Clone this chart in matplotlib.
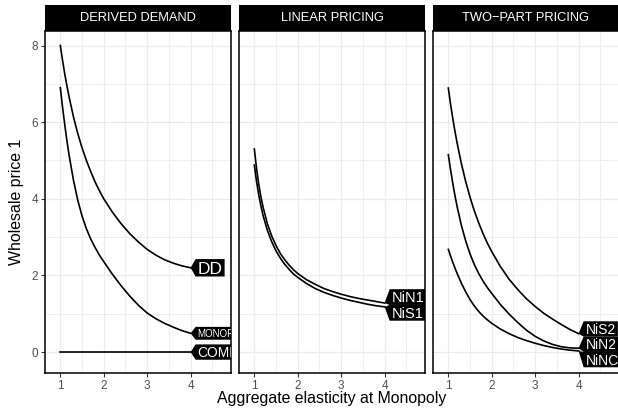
import matplotlib
matplotlib.use("Agg")
import matplotlib.pyplot as plt
import matplotlib.transforms as mtransforms
from matplotlib.patches import Polygon, Rectangle

plt.rcParams['font.family'] = ['Liberation Sans', 'DejaVu Sans']

# aggregate elasticity at monopoly (x) and wholesale price 1 for each curve
elasticity = [1, 1.05, 1.1, 1.15, 1.2, 1.3, 1.4, 1.5, 1.6, 1.7, 1.8, 1.9, 2,
              2.2, 2.4, 2.6, 2.8, 3, 3.2, 3.4, 3.6, 3.8, 4]

dd = [8.0, 7.62, 7.27, 6.96, 6.67, 6.15, 5.71, 5.33, 5.0, 4.71, 4.44, 4.21, 4.0,
      3.65, 3.35, 3.09, 2.87, 2.68, 2.53, 2.41, 2.32, 2.25, 2.2]
monop = [6.9, 6.4, 5.95, 5.53, 5.15, 4.5, 3.97, 3.55, 3.22, 2.95, 2.73, 2.53, 2.36,
         2.03, 1.73, 1.46, 1.22, 1.02, 0.87, 0.75, 0.65, 0.56, 0.49]
comp = [0, 0, 0, 0, 0, 0, 0, 0, 0, 0, 0, 0, 0, 0, 0, 0, 0, 0, 0, 0, 0, 0, 0]

nin1 = [5.3, 4.8, 4.39, 4.06, 3.79, 3.35, 3.03, 2.78, 2.57, 2.41, 2.27, 2.15, 2.05,
        1.89, 1.77, 1.66, 1.58, 1.51, 1.45, 1.4, 1.36, 1.32, 1.28]
nis1 = [4.88, 4.46, 4.11, 3.82, 3.57, 3.18, 2.88, 2.64, 2.45, 2.29, 2.16, 2.04, 1.95,
        1.79, 1.66, 1.56, 1.48, 1.41, 1.35, 1.3, 1.25, 1.21, 1.18]

nis2 = [6.89, 6.48, 6.11, 5.78, 5.47, 4.92, 4.45, 4.04, 3.68, 3.37, 3.09, 2.84, 2.62,
        2.23, 1.9, 1.63, 1.39, 1.19, 1.01, 0.86, 0.72, 0.59, 0.48]
nin2 = [5.15, 4.77, 4.42, 4.1, 3.81, 3.31, 2.9, 2.56, 2.28, 2.05, 1.85, 1.68, 1.53,
        1.24, 0.99, 0.77, 0.57, 0.41, 0.29, 0.2, 0.14, 0.11, 0.1]
ninc = [2.68, 2.51, 2.35, 2.2, 2.06, 1.8, 1.57, 1.37, 1.2, 1.06, 0.94, 0.84, 0.75,
        0.6, 0.48, 0.38, 0.3, 0.23, 0.17, 0.12, 0.08, 0.05, 0.03]

panel_titles = ["DERIVED DEMAND", "LINEAR PRICING", "TWO\u2212PART PRICING"]
panel_series = [
    [(dd, "DD", 12.5), (monop, "MONOP", 7), (comp, "COMP", 10)],
    [(nin1, "NiN1", 10.5), (nis1, "NiS1", 10.5)],
    [(nis2, "NiS2", 10), (nin2, "NiN2", 10), (ninc, "NiNC", 10)],
]

W, H = 618, 411
fig = plt.figure(figsize=(W / 100, H / 100), dpi=100)


def box_height(size):
    return size * 100 / 72 * 0.6 + 7


def spread(ys, gap):
    # push label centres apart so boxes don't overlap
    groups = []
    for y in ys:
        groups.append([y])
        while len(groups) > 1:
            lo, hi = groups[-2], groups[-1]
            lo_top = sum(lo) / len(lo) + (len(lo) - 1) / 2 * gap
            hi_bot = sum(hi) / len(hi) - (len(hi) - 1) / 2 * gap
            if hi_bot - lo_top >= gap:
                break
            groups[-2:] = [lo + hi]
    out = []
    for g in groups:
        m = sum(g) / len(g)
        out += [m + (k - (len(g) - 1) / 2) * gap for k in range(len(g))]
    return out


def draw_tags(ax, series):
    renderer = fig.canvas.get_renderer()
    ident = mtransforms.IdentityTransform()
    tips = []
    for ys, text, size in series:
        tx, ty = ax.transData.transform((elasticity[-1], ys[-1]))
        tips.append((ty, tx, text, size))
    tips.sort()
    gap = max(box_height(s) for _, _, _, s in tips)
    centers = spread([t[0] for t in tips], gap)
    for (ty, tx, text, size), cy in zip(tips, centers):
        fpx = size * 100 / 72
        h = box_height(size)
        bx = tx + 5
        t = ax.text(bx + 2, cy - 0.36 * fpx, text, color="white", fontsize=size,
                    ha="left", va="baseline", transform=ident, zorder=6, clip_on=True)
        w = t.get_window_extent(renderer).width
        rx = bx + w + 4
        poly = Polygon([(tx, ty), (bx, cy - h / 2), (rx, cy - h / 2), (rx, cy + h / 2), (bx, cy + h / 2)],
                       closed=True, facecolor="black", edgecolor="none", transform=ident, zorder=5)
        ax.add_artist(poly)
        poly.set_clip_path(ax.patch)


lefts = [45, 239, 433]
for i, left in enumerate(lefts):
    ax = fig.add_axes([left / W, (H - 373) / H, 186 / W, 342 / H])
    ax.set_xlim(0.647, 4.93)
    ax.set_ylim(-0.546, 8.379)
    ax.set_xticks([1, 2, 3, 4])
    ax.set_xticks([1.5, 2.5, 3.5, 4.5], minor=True)
    ax.set_yticks([0, 2, 4, 6, 8])
    ax.set_yticks([1, 3, 5, 7], minor=True)
    ax.grid(which="major", color="#ebebeb", lw=0.9)
    ax.grid(which="minor", color="#ebebeb", lw=0.6)
    ax.set_axisbelow(True)
    ax.tick_params(which="major", length=3, width=0.8, color="#333333",
                   labelcolor="#4d4d4d", labelsize=8.5, pad=2)
    ax.tick_params(which="minor", length=0)
    if i > 0:
        ax.tick_params(axis="y", left=False, labelleft=False)
    for sp in ax.spines.values():
        sp.set_color("black")
        sp.set_linewidth(1.1)

    for ys, text, size in panel_series[i]:
        ax.plot(elasticity, ys, color="black", lw=1.2, zorder=3)

    # facet strip
    ax.add_patch(Rectangle((0, 1), 1, 26 / 342, transform=ax.transAxes, facecolor="black",
                           edgecolor="black", lw=0, clip_on=False))
    ax.text(0.5, 1 + 13 / 342, panel_titles[i], transform=ax.transAxes, ha="center",
            va="center", color="white", fontsize=9.3)

    draw_tags(ax, panel_series[i])

fig.text(332 / W, 1 - 398.5 / H, "Aggregate elasticity at Monopoly", ha="center", va="center", fontsize=11.4)
fig.text(17 / W, 1 - 202 / H, "Wholesale price 1", ha="center", va="center", rotation=90, fontsize=11.4)

fig.savefig("out.png", dpi=100)
